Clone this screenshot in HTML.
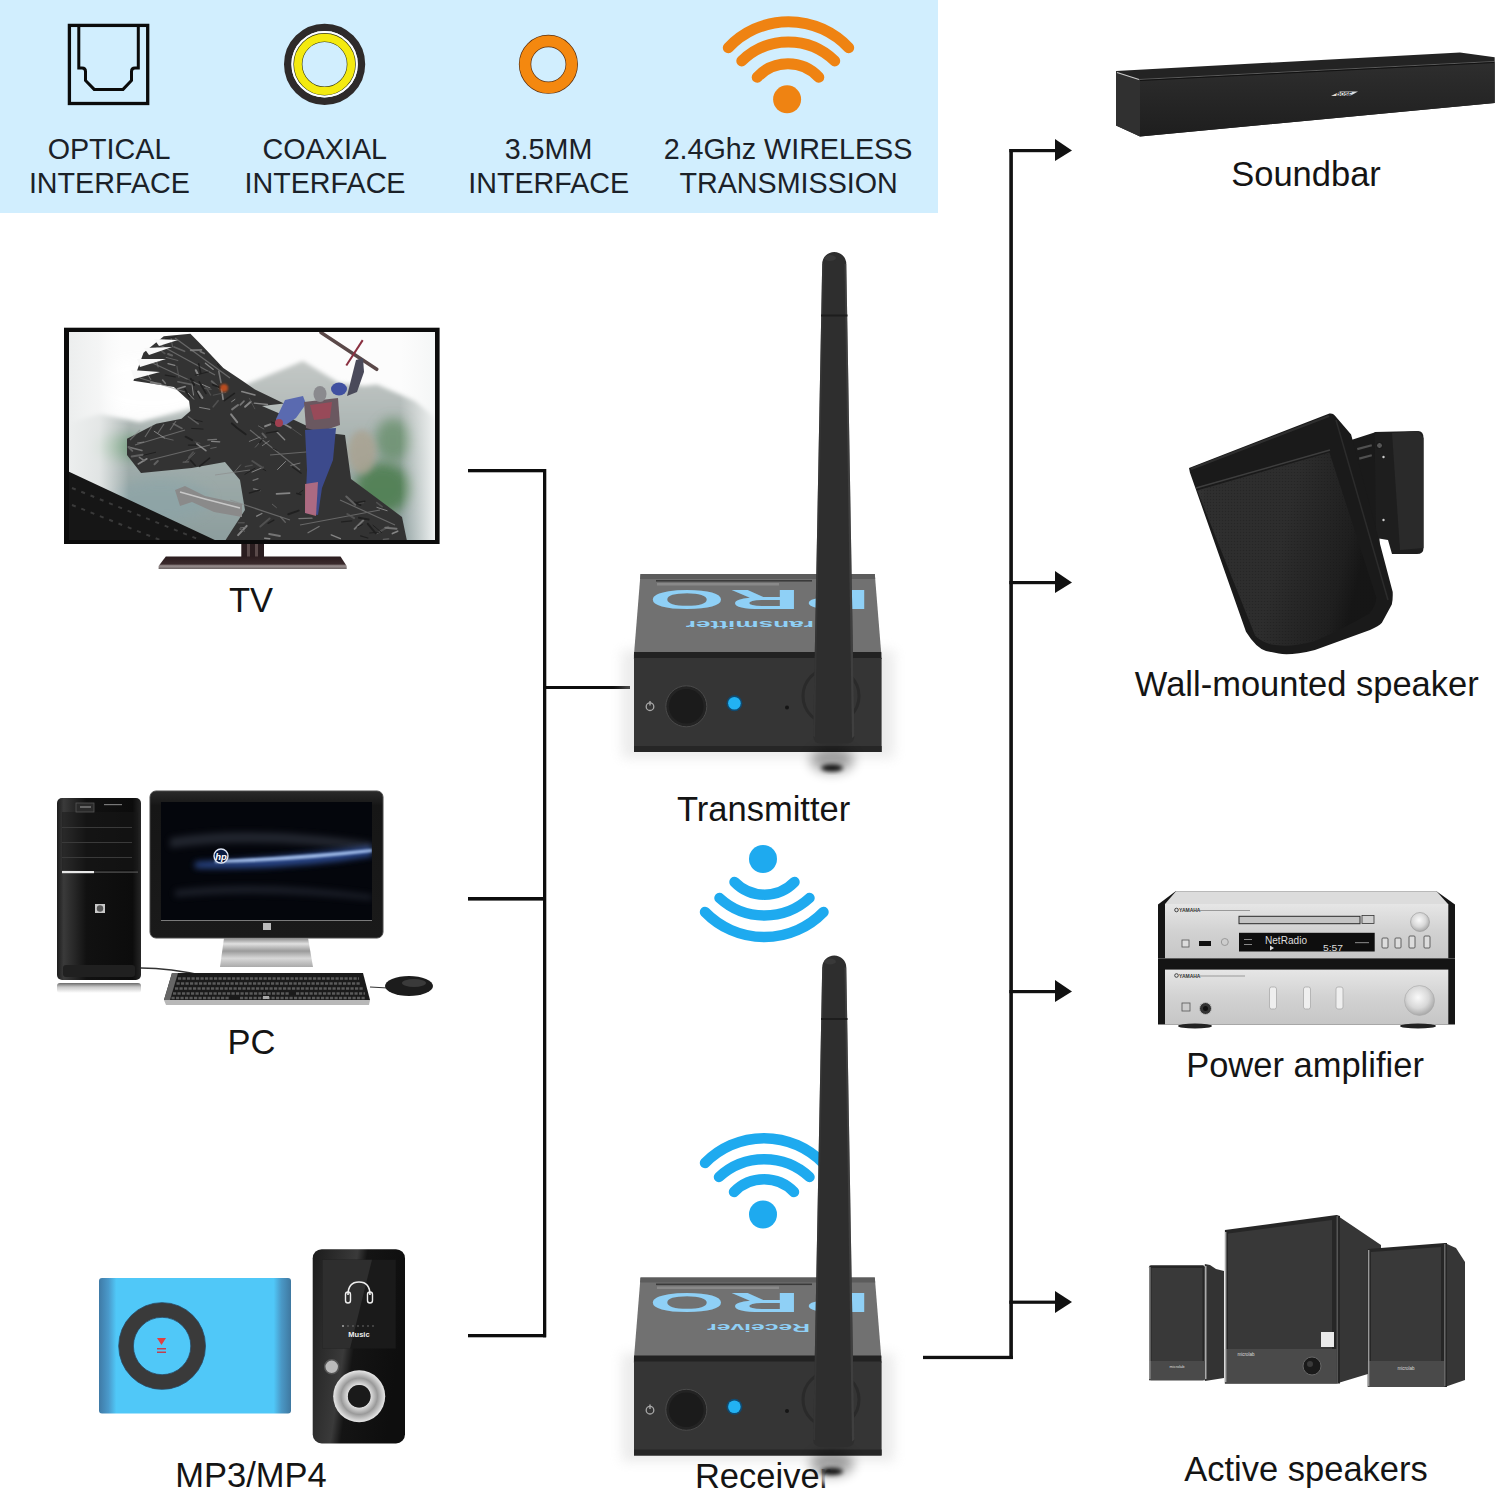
<!DOCTYPE html>
<html><head><meta charset="utf-8">
<style>
html,body{margin:0;padding:0;background:#fff;}
body{width:1500px;height:1491px;overflow:hidden;position:relative;}
svg{position:absolute;left:0;top:0;display:block;}
text{font-family:"Liberation Sans",sans-serif;}
</style></head><body>
<svg width="1500" height="1491" viewBox="0 0 1500 1491">
<defs>
<filter id="blur1" x="-50%" y="-50%" width="200%" height="200%"><feGaussianBlur stdDeviation="1"/></filter>
<filter id="blur2" x="-50%" y="-50%" width="200%" height="200%"><feGaussianBlur stdDeviation="2"/></filter>
<filter id="blur3" x="-50%" y="-50%" width="200%" height="200%"><feGaussianBlur stdDeviation="3"/></filter>
<filter id="blur6" x="-50%" y="-50%" width="200%" height="200%"><feGaussianBlur stdDeviation="6"/></filter>
<filter id="blur10" x="-50%" y="-50%" width="200%" height="200%"><feGaussianBlur stdDeviation="10"/></filter>
</defs>
<rect x="0" y="0" width="1500" height="1491" fill="#fff"/>
<!-- top panel -->
<rect x="0" y="0" width="938" height="213" fill="#d1eefe"/>
<!-- optical icon -->
<g fill="none" stroke="#0b0b0b" stroke-width="3.3">
<rect x="69.4" y="25.4" width="78.3" height="78.1"/>
<path d="M78.8,25.4 V68 H82 Q85.5,68 85.5,71.5 V80.5 L94.2,89.4 H123 L131.5,80.5 V71.5 Q131.5,68 135,68 H138.3 V25.4" stroke-width="3"/>
</g>
<!-- coaxial icon -->
<circle cx="324.6" cy="64.3" r="36.9" fill="none" stroke="#2e2a2a" stroke-width="7.4"/>
<circle cx="324.6" cy="64.3" r="32.2" fill="none" stroke="#fff" stroke-width="2"/>
<circle cx="324.6" cy="64.3" r="26.7" fill="none" stroke="#3a3a10" stroke-width="9"/>
<circle cx="324.6" cy="64.3" r="26.7" fill="none" stroke="#f4ea10" stroke-width="7.8"/>
<!-- 3.5mm icon -->
<circle cx="548.4" cy="64.3" r="23.35" fill="none" stroke="#5a3010" stroke-width="12.4"/>
<circle cx="548.4" cy="64.3" r="23.35" fill="none" stroke="#f4880f" stroke-width="11"/>
<!-- orange wifi -->
<g fill="none" stroke="#ef8312" stroke-width="11" stroke-linecap="round">
<path d="M728.3,47.8 A82.5,82.5 0 0 1 848.7,47.8"/>
<path d="M741.8,60.9 A66.6,66.6 0 0 1 834.7,60.9"/>
<path d="M757.2,77.2 A41.9,41.9 0 0 1 818.8,77.2"/>
</g>
<circle cx="787.1" cy="99.3" r="14" fill="#ef8312"/>
<!-- top labels -->
<g font-size="28.7" fill="#1b2128" text-anchor="middle">
<text x="109" y="158.5">OPTICAL</text>
<text x="109.4" y="193">INTERFACE</text>
<text x="324.8" y="158.5">COAXIAL</text>
<text x="325" y="193">INTERFACE</text>
<text x="548.5" y="158.5">3.5MM</text>
<text x="548.7" y="193">INTERFACE</text>
<text x="788" y="158.5">2.4Ghz WIRELESS</text>
<text x="788.6" y="193.3">TRANSMISSION</text>
</g>
<!-- left connector lines -->
<g fill="#0d0d0d">
<rect x="468" y="469" width="78" height="3.3"/>
<rect x="468" y="897" width="78" height="3.6"/>
<rect x="468" y="1334" width="78" height="3.3"/>
<rect x="543" y="469" width="3.3" height="868.3"/>
<rect x="546" y="686" width="84" height="3"/>
</g>
<!-- right connector lines -->
<g fill="#111">
<rect x="1009.3" y="149" width="3.6" height="1210"/>
<rect x="1009.3" y="149" width="47" height="3.2"/>
<rect x="1009.3" y="581" width="47" height="3.2"/>
<rect x="1009.3" y="990" width="47" height="3.2"/>
<rect x="1009.3" y="1300.6" width="47" height="3.2"/>
<rect x="923" y="1355.8" width="90" height="3.3"/>
<path d="M1055,139 L1072,150.5 L1055,161 Z"/>
<path d="M1055,571 L1072,582.5 L1055,593 Z"/>
<path d="M1055,980 L1072,991.5 L1055,1002 Z"/>
<path d="M1055,1291 L1072,1302 L1055,1313 Z"/>
</g>
<!-- blue wifi down -->
<g fill="none" stroke="#1eaaef" stroke-width="10.5" stroke-linecap="round">
<path d="M734.5,882 A41.9,41.9 0 0 0 794.5,882"/>
<path d="M719.5,898 A66.6,66.6 0 0 0 809.5,898"/>
<path d="M705,912 A82.5,82.5 0 0 0 823.5,912"/>
</g>
<circle cx="763" cy="859" r="14" fill="#1eaaef"/>
<!-- blue wifi up -->
<g fill="none" stroke="#1eaaef" stroke-width="10.5" stroke-linecap="round">
<path d="M734,1192 A41.9,41.9 0 0 1 794,1192"/>
<path d="M719,1177 A66.6,66.6 0 0 1 809.5,1177"/>
<path d="M705,1163 A82.5,82.5 0 0 1 823,1163"/>
</g>
<circle cx="763" cy="1214.5" r="14" fill="#1eaaef"/>
<!-- TRANSMITTER / RECEIVER -->
<g id="txbox">
<rect x="622" y="650" width="272" height="108" fill="#c8c8c8" opacity="0.35" filter="url(#blur6)"/>
<polygon points="640.5,574 874.8,574 881.3,654.3 634,654.3" fill="#717171"/>
<polygon points="640.5,574 874.8,574 875.2,579 640.1,579" fill="#5c5c5c"/>
<rect x="656" y="580" width="156" height="1.6" fill="#3a3a3a"/>
<rect x="657" y="583" width="122" height="2.5" fill="#9a9a9a" opacity="0.6"/>
<polygon points="634,652 881.3,652 881.6,659 633.9,659" fill="#222"/>
<rect x="634" y="658" width="247.6" height="94" fill="#353535"/>
<rect x="634" y="746" width="247.6" height="6" fill="#262626"/>
<circle cx="650" cy="706.7" r="3.8" fill="none" stroke="#a8a8a8" stroke-width="1.3"/>
<rect x="649.3" y="701" width="1.4" height="4.5" fill="#a8a8a8"/>
<circle cx="686.3" cy="706.3" r="20.5" fill="#232323" stroke="#4a4a4a" stroke-width="1"/>
<circle cx="686.3" cy="706.3" r="17.3" fill="#1b1b1b"/>
<circle cx="734.4" cy="703.3" r="8" fill="#104a70"/>
<circle cx="734.4" cy="703.3" r="6.3" fill="#22b2f3"/>
<circle cx="787" cy="707.5" r="2" fill="#151515"/>
<circle cx="831" cy="696" r="28" fill="none" stroke="#2a2a2a" stroke-width="3"/>
</g>
<g font-family="Liberation Serif" font-weight="bold" font-size="27.8" fill="#8fd0f6" text-anchor="middle">
<text transform="translate(686.75,589.5) rotate(180) scale(3.53,1)">O</text>
<text transform="translate(765.15,589.5) rotate(180) scale(3.53,1)">R</text>
<text transform="translate(838,589.5) rotate(180) scale(3.53,1)">P</text>
</g>
<text transform="translate(814,620.7) rotate(180) scale(2.3,1)" font-size="11.4" font-weight="bold" fill="#8fd0f6">ransmitter</text>
<g id="txant">
<ellipse cx="832" cy="760" rx="22" ry="13" fill="#000" opacity="0.35" filter="url(#blur6)"/>
<ellipse cx="832" cy="768" rx="11" ry="3.5" fill="#000" opacity="0.9" filter="url(#blur2)"/>
<path d="M822.2,264 A12,12 0 0 1 846.3,264 L854.4,736 Q854.4,743.6 846,743.6 L821.5,743.6 Q813.2,743.6 813.2,736 Z" fill="#2e2e2e"/>
<path d="M846.3,264 L854.4,736 L852,738 L844.5,264 Z" fill="#505050" opacity="0.5"/>
<path d="M822.2,264 L813.2,736 L815,737 L824,264 Z" fill="#3a3a3a" opacity="0.6"/>
<rect x="821" y="314.5" width="26.5" height="2" fill="#1d1d1d"/>
<ellipse cx="830" cy="258" rx="6" ry="3" fill="#444" opacity="0.5"/>
</g>
<use href="#txbox" transform="translate(0,703.5)"/>
<g font-family="Liberation Serif" font-weight="bold" font-size="27.8" fill="#8fd0f6" text-anchor="middle">
<text transform="translate(686.75,1293) rotate(180) scale(3.53,1)">O</text>
<text transform="translate(765.15,1293) rotate(180) scale(3.53,1)">R</text>
<text transform="translate(838,1293) rotate(180) scale(3.53,1)">P</text>
</g>
<text transform="translate(810,1323.5) rotate(180) scale(2.35,1)" font-size="10.5" font-weight="bold" fill="#8fd0f6">Receiver</text>
<!-- TV -->
<clipPath id="tvclip"><rect x="69" y="332" width="366" height="208"/></clipPath>
<linearGradient id="tvmistL" x1="0" x2="1" y1="0" y2="0"><stop offset="0" stop-color="#eceeee"/><stop offset="0.5" stop-color="#f2f3f3" stop-opacity="0.8"/><stop offset="1" stop-color="#fff" stop-opacity="0"/></linearGradient>
<linearGradient id="tvmistR" x1="0" x2="1" y1="0" y2="0"><stop offset="0" stop-color="#f6f7f7" stop-opacity="0"/><stop offset="1" stop-color="#f4f6f6" stop-opacity="0.95"/></linearGradient>
<linearGradient id="tvstandG" x1="0" x2="0" y1="0" y2="1"><stop offset="0" stop-color="#2b1c1e"/><stop offset="0.6" stop-color="#3a2a2c"/><stop offset="0.75" stop-color="#9a9090"/><stop offset="1" stop-color="#6a6262"/></linearGradient>
<linearGradient id="mtnG" x1="0" x2="0" y1="0" y2="1"><stop offset="0" stop-color="#c4c8c6"/><stop offset="0.5" stop-color="#a2aeac"/><stop offset="1" stop-color="#8a9c9c"/></linearGradient>
<rect x="64" y="327.7" width="375.6" height="216.3" fill="#0b0b0b"/>
<g clip-path="url(#tvclip)">
<rect x="69" y="332" width="366" height="208" fill="#fcfcfc"/>
<polygon points="60,425 100,414 140,422 200,405 250,383 303,361 339,383 364,386 377,384.5 415,401 445,425 445,550 60,550" fill="url(#mtnG)" filter="url(#blur2)"/>
<ellipse cx="120" cy="447" rx="28" ry="12" fill="#6a9a74" opacity="0.7" filter="url(#blur6)"/>
<ellipse cx="383" cy="488" rx="28" ry="26" fill="#4a7c4c" opacity="0.85" filter="url(#blur6)"/>
<ellipse cx="393" cy="440" rx="18" ry="22" fill="#5e8a62" opacity="0.7" filter="url(#blur6)"/>
<ellipse cx="362" cy="452" rx="14" ry="22" fill="#aaa290" opacity="0.8" filter="url(#blur3)"/>
<ellipse cx="160" cy="500" rx="50" ry="22" fill="#8aa4a8" opacity="0.6" filter="url(#blur6)"/>
<ellipse cx="150" cy="385" rx="60" ry="28" fill="#fff" opacity="0.95" filter="url(#blur6)"/>
<rect x="69" y="332" width="60" height="208" fill="url(#tvmistL)"/>
<rect x="400" y="332" width="35" height="208" fill="url(#tvmistR)"/>
<polygon points="60,467.5 217,541 60,541" fill="#161616"/>
<g stroke="#4a4a4a" stroke-width="2" stroke-dasharray="4 6" opacity="0.7"><path d="M72,488 L200,540"/><path d="M72,505 L160,540"/></g>
<polygon points="133.4,380.7 143.5,352.8 163.8,336.3 190.4,333.8 201.8,345.2 223.3,368 242.3,380.7 255,389.5 284,403.5 262,406 290,418 320,432 345,435 351,479 376.7,498 402,517 407,541 225,541 232,530 245,510 240,480 225,462 191.7,468 141,473 127,455 127,438.8 156.2,423.7 181.5,418.7 190.4,411 189.1,400.9 173.9,387" fill="#333"/>
<g stroke="#8a8a8a" stroke-width="1.2" opacity="0.6" fill="none">
<path d="M140,378 L185,392"/><path d="M146,360 L200,385"/><path d="M160,345 L215,375"/><path d="M175,338 L230,378"/>
<path d="M135,445 L185,430"/><path d="M150,460 L210,445"/><path d="M130,440 L140,430 M145,437 L152,426 M158,433 L164,424 M170,430 L176,421"/>
<path d="M250,430 L300,470"/><path d="M230,500 L290,520"/><path d="M270,455 L330,450"/><path d="M340,500 L395,525"/><path d="M300,525 L380,510"/><path d="M215,475 L250,470"/>
</g>
<!--dragon_tex-->
<g opacity="0.75">
<path d="M217.3,364.2 L220.3,367.8" stroke="#1a1a1a" stroke-width="1" stroke-linecap="round"/>
<path d="M238.1,535.1 L246.7,525.9" stroke="#a0a0a0" stroke-width="2" stroke-linecap="round"/>
<path d="M166.1,357.4 L177.9,360.5" stroke="#707070" stroke-width="1" stroke-linecap="round"/>
<path d="M290.8,465.3 L300.0,463.1" stroke="#8a8a8a" stroke-width="1" stroke-linecap="round"/>
<path d="M276.5,493.9 L289.7,493.1" stroke="#a0a0a0" stroke-width="1.6" stroke-linecap="round"/>
<path d="M195.8,370.2 L198.0,374.5" stroke="#a0a0a0" stroke-width="2" stroke-linecap="round"/>
<path d="M288.3,514.2 L298.7,510.6" stroke="#1a1a1a" stroke-width="2" stroke-linecap="round"/>
<path d="M290.3,427.4 L301.3,435.2" stroke="#5a5a5a" stroke-width="1" stroke-linecap="round"/>
<path d="M235.0,471.4 L240.6,464.9" stroke="#707070" stroke-width="1" stroke-linecap="round"/>
<path d="M238.4,522.8 L244.1,522.7" stroke="#5a5a5a" stroke-width="1.6" stroke-linecap="round"/>
<path d="M376.8,502.6 L382.1,506.7" stroke="#5a5a5a" stroke-width="1.6" stroke-linecap="round"/>
<path d="M190.8,350.2 L201.3,349.9" stroke="#8a8a8a" stroke-width="2" stroke-linecap="round"/>
<path d="M205.4,363.2 L213.3,369.4" stroke="#a0a0a0" stroke-width="1.3" stroke-linecap="round"/>
<path d="M347.3,514.0 L354.1,518.1" stroke="#5a5a5a" stroke-width="2" stroke-linecap="round"/>
<path d="M154.5,464.3 L157.8,461.0" stroke="#707070" stroke-width="2" stroke-linecap="round"/>
<path d="M168.1,354.0 L172.1,355.5" stroke="#707070" stroke-width="2" stroke-linecap="round"/>
<path d="M171.0,337.8 L172.5,346.9" stroke="#707070" stroke-width="1" stroke-linecap="round"/>
<path d="M188.5,445.1 L198.9,445.2" stroke="#1a1a1a" stroke-width="1.3" stroke-linecap="round"/>
<path d="M354.7,502.4 L360.4,505.0" stroke="#1a1a1a" stroke-width="2" stroke-linecap="round"/>
<path d="M187.8,380.0 L193.9,380.3" stroke="#1a1a1a" stroke-width="1" stroke-linecap="round"/>
<path d="M261.6,468.2 L265.8,470.7" stroke="#1a1a1a" stroke-width="1" stroke-linecap="round"/>
<path d="M239.4,529.0 L244.6,531.2" stroke="#707070" stroke-width="1" stroke-linecap="round"/>
<path d="M360.6,535.9 L367.8,538.0" stroke="#1a1a1a" stroke-width="1.3" stroke-linecap="round"/>
<path d="M185.6,436.7 L192.1,440.1" stroke="#1a1a1a" stroke-width="2" stroke-linecap="round"/>
<path d="M272.3,504.2 L276.4,507.6" stroke="#707070" stroke-width="1" stroke-linecap="round"/>
<path d="M298.4,493.6 L302.8,490.4" stroke="#1a1a1a" stroke-width="1" stroke-linecap="round"/>
<path d="M272.7,448.0 L277.1,450.5" stroke="#1a1a1a" stroke-width="1" stroke-linecap="round"/>
<path d="M195.8,390.3 L200.0,398.4" stroke="#1a1a1a" stroke-width="1" stroke-linecap="round"/>
<path d="M341.6,521.9 L351.7,520.9" stroke="#1a1a1a" stroke-width="1.3" stroke-linecap="round"/>
<path d="M277.0,432.0 L284.7,439.8" stroke="#a0a0a0" stroke-width="1.3" stroke-linecap="round"/>
<path d="M376.6,533.3 L388.4,526.7" stroke="#5a5a5a" stroke-width="2" stroke-linecap="round"/>
<path d="M245.1,406.8 L250.8,401.7" stroke="#a0a0a0" stroke-width="2" stroke-linecap="round"/>
<path d="M198.7,363.9 L200.8,373.4" stroke="#1a1a1a" stroke-width="1.6" stroke-linecap="round"/>
<path d="M254.3,403.2 L267.5,404.5" stroke="#a0a0a0" stroke-width="1.3" stroke-linecap="round"/>
<path d="M392.4,533.6 L397.7,531.2" stroke="#a0a0a0" stroke-width="1.6" stroke-linecap="round"/>
<path d="M252.0,472.1 L263.0,467.3" stroke="#a0a0a0" stroke-width="1" stroke-linecap="round"/>
<path d="M260.3,526.5 L269.6,518.5" stroke="#5a5a5a" stroke-width="2" stroke-linecap="round"/>
<path d="M280.6,517.0 L285.3,522.3" stroke="#707070" stroke-width="1.3" stroke-linecap="round"/>
<path d="M240.3,404.9 L244.0,401.1" stroke="#8a8a8a" stroke-width="1.6" stroke-linecap="round"/>
<path d="M269.2,534.0 L279.9,535.9" stroke="#8a8a8a" stroke-width="2" stroke-linecap="round"/>
<path d="M177.8,388.7 L185.1,386.5" stroke="#a0a0a0" stroke-width="1.6" stroke-linecap="round"/>
<path d="M213.2,406.8 L218.1,400.7" stroke="#5a5a5a" stroke-width="1.6" stroke-linecap="round"/>
<path d="M200.3,351.6 L204.3,353.4" stroke="#8a8a8a" stroke-width="1.6" stroke-linecap="round"/>
<path d="M211.7,381.2 L218.5,387.6" stroke="#707070" stroke-width="2" stroke-linecap="round"/>
<path d="M271.2,421.9 L279.7,425.1" stroke="#1a1a1a" stroke-width="1" stroke-linecap="round"/>
<path d="M277.5,469.5 L285.6,461.5" stroke="#a0a0a0" stroke-width="1" stroke-linecap="round"/>
<path d="M138.3,464.0 L146.9,458.8" stroke="#a0a0a0" stroke-width="1.6" stroke-linecap="round"/>
<path d="M262.5,433.6 L265.8,437.3" stroke="#707070" stroke-width="2" stroke-linecap="round"/>
<path d="M207.9,439.9 L216.5,439.4" stroke="#8a8a8a" stroke-width="1.3" stroke-linecap="round"/>
<path d="M199.6,407.4 L209.8,409.3" stroke="#a0a0a0" stroke-width="1" stroke-linecap="round"/>
<path d="M265.1,426.3 L270.2,424.4" stroke="#a0a0a0" stroke-width="2" stroke-linecap="round"/>
<path d="M231.1,414.3 L237.2,422.1" stroke="#a0a0a0" stroke-width="2" stroke-linecap="round"/>
<path d="M249.3,398.3 L254.8,408.8" stroke="#5a5a5a" stroke-width="1" stroke-linecap="round"/>
<path d="M385.3,527.7 L396.5,528.7" stroke="#8a8a8a" stroke-width="2" stroke-linecap="round"/>
<path d="M253.5,488.8 L260.1,490.6" stroke="#8a8a8a" stroke-width="1.3" stroke-linecap="round"/>
<path d="M205.3,385.9 L210.7,395.0" stroke="#5a5a5a" stroke-width="1.3" stroke-linecap="round"/>
<path d="M210.7,448.4 L216.3,447.3" stroke="#707070" stroke-width="1" stroke-linecap="round"/>
<path d="M383.3,539.3 L388.7,538.8" stroke="#707070" stroke-width="1.3" stroke-linecap="round"/>
<path d="M151.0,382.5 L160.5,384.1" stroke="#8a8a8a" stroke-width="2" stroke-linecap="round"/>
<path d="M184.9,388.9 L189.3,396.7" stroke="#1a1a1a" stroke-width="1.6" stroke-linecap="round"/>
<path d="M160.9,437.2 L173.2,440.1" stroke="#707070" stroke-width="1" stroke-linecap="round"/>
<path d="M202.2,384.4 L210.0,387.9" stroke="#a0a0a0" stroke-width="1" stroke-linecap="round"/>
<path d="M258.4,425.9 L263.9,429.0" stroke="#707070" stroke-width="1" stroke-linecap="round"/>
<path d="M255.3,447.2 L263.3,438.4" stroke="#707070" stroke-width="1" stroke-linecap="round"/>
<path d="M157.0,347.6 L164.8,353.5" stroke="#5a5a5a" stroke-width="1.6" stroke-linecap="round"/>
<path d="M188.7,457.4 L193.2,452.0" stroke="#5a5a5a" stroke-width="1.6" stroke-linecap="round"/>
<path d="M191.9,384.1 L193.5,395.1" stroke="#a0a0a0" stroke-width="1" stroke-linecap="round"/>
<path d="M244.9,474.3 L255.1,468.1" stroke="#1a1a1a" stroke-width="1" stroke-linecap="round"/>
<path d="M190.8,378.8 L194.1,384.9" stroke="#1a1a1a" stroke-width="2" stroke-linecap="round"/>
<path d="M298.9,518.6 L312.0,518.2" stroke="#8a8a8a" stroke-width="1.3" stroke-linecap="round"/>
<path d="M131.7,456.4 L142.7,454.7" stroke="#707070" stroke-width="2" stroke-linecap="round"/>
<path d="M253.1,480.4 L258.0,478.7" stroke="#8a8a8a" stroke-width="1.3" stroke-linecap="round"/>
<path d="M218.8,371.4 L221.0,382.7" stroke="#8a8a8a" stroke-width="1.6" stroke-linecap="round"/>
<path d="M231.6,401.7 L234.9,399.4" stroke="#a0a0a0" stroke-width="1" stroke-linecap="round"/>
<path d="M359.1,503.2 L363.6,502.6" stroke="#5a5a5a" stroke-width="1.3" stroke-linecap="round"/>
<path d="M221.6,389.4 L223.1,399.4" stroke="#a0a0a0" stroke-width="1.6" stroke-linecap="round"/>
<path d="M354.6,528.9 L363.3,520.3" stroke="#8a8a8a" stroke-width="2" stroke-linecap="round"/>
<path d="M346.3,496.5 L355.2,504.7" stroke="#707070" stroke-width="2" stroke-linecap="round"/>
<path d="M147.5,373.8 L150.7,379.5" stroke="#8a8a8a" stroke-width="1" stroke-linecap="round"/>
<path d="M262.3,445.7 L269.1,441.0" stroke="#8a8a8a" stroke-width="1" stroke-linecap="round"/>
<path d="M191.7,419.3 L202.2,421.6" stroke="#1a1a1a" stroke-width="1" stroke-linecap="round"/>
<path d="M204.6,388.4 L211.1,389.4" stroke="#5a5a5a" stroke-width="1.3" stroke-linecap="round"/>
<path d="M177.9,381.7 L190.7,384.4" stroke="#707070" stroke-width="1.6" stroke-linecap="round"/>
<path d="M195.1,441.9 L199.9,443.3" stroke="#5a5a5a" stroke-width="1" stroke-linecap="round"/>
<path d="M154.2,431.3 L164.6,438.0" stroke="#a0a0a0" stroke-width="1" stroke-linecap="round"/>
<path d="M139.4,457.3 L144.3,460.6" stroke="#8a8a8a" stroke-width="1.6" stroke-linecap="round"/>
<path d="M296.9,493.4 L300.8,494.6" stroke="#1a1a1a" stroke-width="1.6" stroke-linecap="round"/>
<path d="M165.3,375.2 L175.2,376.8" stroke="#1a1a1a" stroke-width="1.3" stroke-linecap="round"/>
<path d="M357.2,502.5 L364.8,501.2" stroke="#1a1a1a" stroke-width="1.6" stroke-linecap="round"/>
<path d="M266.3,433.1 L278.0,431.1" stroke="#1a1a1a" stroke-width="1.3" stroke-linecap="round"/>
<path d="M241.8,391.6 L254.9,395.0" stroke="#a0a0a0" stroke-width="1.6" stroke-linecap="round"/>
<path d="M240.4,528.0 L245.9,527.3" stroke="#8a8a8a" stroke-width="1" stroke-linecap="round"/>
<path d="M129.2,447.2 L141.9,450.5" stroke="#8a8a8a" stroke-width="1.6" stroke-linecap="round"/>
<path d="M174.0,346.9 L184.6,351.3" stroke="#707070" stroke-width="1.6" stroke-linecap="round"/>
<path d="M188.3,416.7 L198.3,423.9" stroke="#707070" stroke-width="1.3" stroke-linecap="round"/>
<path d="M376.9,507.4 L387.1,510.7" stroke="#a0a0a0" stroke-width="1" stroke-linecap="round"/>
<path d="M236.1,427.3 L245.6,434.3" stroke="#1a1a1a" stroke-width="2" stroke-linecap="round"/>
<path d="M212.8,384.6 L219.9,387.6" stroke="#1a1a1a" stroke-width="2" stroke-linecap="round"/>
<path d="M252.3,461.0 L262.7,467.8" stroke="#5a5a5a" stroke-width="2" stroke-linecap="round"/>
<path d="M155.5,359.6 L159.9,361.8" stroke="#5a5a5a" stroke-width="1" stroke-linecap="round"/>
<path d="M156.2,360.2 L158.1,366.9" stroke="#707070" stroke-width="1.3" stroke-linecap="round"/>
<path d="M268.1,523.4 L273.9,520.1" stroke="#1a1a1a" stroke-width="1.3" stroke-linecap="round"/>
<path d="M176.9,366.4 L178.9,377.0" stroke="#5a5a5a" stroke-width="1.3" stroke-linecap="round"/>
<path d="M369.6,533.0 L378.8,532.2" stroke="#1a1a1a" stroke-width="1" stroke-linecap="round"/>
<path d="M196.8,443.9 L205.9,450.7" stroke="#a0a0a0" stroke-width="1.6" stroke-linecap="round"/>
<path d="M232.1,409.4 L238.0,405.0" stroke="#8a8a8a" stroke-width="2" stroke-linecap="round"/>
<path d="M190.6,460.4 L195.3,465.5" stroke="#1a1a1a" stroke-width="1.6" stroke-linecap="round"/>
<path d="M373.0,525.2 L381.6,532.6" stroke="#1a1a1a" stroke-width="1" stroke-linecap="round"/>
<path d="M188.2,393.2 L193.7,399.2" stroke="#a0a0a0" stroke-width="1" stroke-linecap="round"/>
<path d="M162.6,380.0 L165.3,383.3" stroke="#8a8a8a" stroke-width="1.6" stroke-linecap="round"/>
<path d="M211.6,441.3 L219.7,441.8" stroke="#a0a0a0" stroke-width="1.3" stroke-linecap="round"/>
<path d="M183.2,462.2 L188.5,461.9" stroke="#707070" stroke-width="1.3" stroke-linecap="round"/>
<path d="M359.0,517.8 L368.6,519.4" stroke="#1a1a1a" stroke-width="2" stroke-linecap="round"/>
<path d="M137.5,443.0 L143.8,442.0" stroke="#8a8a8a" stroke-width="1" stroke-linecap="round"/>
<path d="M128.5,447.0 L132.3,450.9" stroke="#707070" stroke-width="2" stroke-linecap="round"/>
<path d="M213.2,395.2 L225.8,392.4" stroke="#5a5a5a" stroke-width="1" stroke-linecap="round"/>
<path d="M231.9,423.4 L235.5,426.6" stroke="#1a1a1a" stroke-width="2" stroke-linecap="round"/>
<path d="M199.5,466.3 L209.6,458.2" stroke="#1a1a1a" stroke-width="1.6" stroke-linecap="round"/>
<path d="M282.8,423.3 L290.8,427.8" stroke="#a0a0a0" stroke-width="1.6" stroke-linecap="round"/>
<path d="M308.0,532.8 L319.1,526.5" stroke="#8a8a8a" stroke-width="1.3" stroke-linecap="round"/>
<path d="M199.2,381.9 L206.0,393.5" stroke="#1a1a1a" stroke-width="1.6" stroke-linecap="round"/>
<path d="M367.8,523.8 L375.8,533.3" stroke="#1a1a1a" stroke-width="2" stroke-linecap="round"/>
<path d="M259.6,442.8 L262.2,439.5" stroke="#1a1a1a" stroke-width="1.3" stroke-linecap="round"/>
<path d="M185.4,461.9 L194.9,452.9" stroke="#707070" stroke-width="1" stroke-linecap="round"/>
<path d="M165.4,338.9 L176.1,336.5" stroke="#1a1a1a" stroke-width="1" stroke-linecap="round"/>
<path d="M143.7,455.2 L155.6,452.3" stroke="#1a1a1a" stroke-width="1" stroke-linecap="round"/>
<path d="M195.3,375.1 L208.4,371.9" stroke="#1a1a1a" stroke-width="1" stroke-linecap="round"/>
<path d="M198.2,391.5 L202.4,397.9" stroke="#a0a0a0" stroke-width="2" stroke-linecap="round"/>
<path d="M249.4,493.0 L260.0,490.0" stroke="#1a1a1a" stroke-width="1.3" stroke-linecap="round"/>
<path d="M249.3,441.4 L260.0,437.1" stroke="#8a8a8a" stroke-width="1" stroke-linecap="round"/>
<path d="M357.3,527.2 L362.4,524.6" stroke="#1a1a1a" stroke-width="1" stroke-linecap="round"/>
<path d="M264.7,538.2 L269.7,538.7" stroke="#a0a0a0" stroke-width="1.6" stroke-linecap="round"/>
<path d="M245.3,466.7 L252.2,465.1" stroke="#5a5a5a" stroke-width="1.3" stroke-linecap="round"/>
<path d="M191.6,428.4 L203.1,429.1" stroke="#1a1a1a" stroke-width="1" stroke-linecap="round"/>
<path d="M224.3,400.6 L234.4,393.4" stroke="#1a1a1a" stroke-width="1.6" stroke-linecap="round"/>
<path d="M173.3,423.8 L182.0,428.5" stroke="#707070" stroke-width="1.6" stroke-linecap="round"/>
<path d="M256.7,516.2 L261.9,513.5" stroke="#a0a0a0" stroke-width="1.3" stroke-linecap="round"/>
<path d="M331.2,534.8 L340.4,538.7" stroke="#a0a0a0" stroke-width="1.3" stroke-linecap="round"/>
<path d="M168.0,363.7 L174.8,365.4" stroke="#a0a0a0" stroke-width="1.3" stroke-linecap="round"/>
<path d="M292.4,467.0 L301.1,473.2" stroke="#1a1a1a" stroke-width="1.3" stroke-linecap="round"/>
</g>
<g fill="#f8f8f8">
<polygon points="131,370 134,379 160,372"/><polygon points="137,359 140,367 166,359"/><polygon points="144,348 149,355 172,347"/><polygon points="154,339 159,346 178,340"/>

</g>
<polygon points="175,490 185,486 205,496 242,504 242,517 214,512 192,502 180,506" fill="#8a8a8a"/>
<path d="M180,492 L205,499 L240,508" stroke="#c8c8c8" stroke-width="1.5" fill="none"/>
<circle cx="224" cy="388" r="4" fill="#c8501e" opacity="0.9" filter="url(#blur1)"/>
<path d="M321,332.5 L376.7,369.3" stroke="#5a4848" stroke-width="3.5" stroke-linecap="round"/>
<path d="M346.3,365.5 L362.7,340.1" stroke="#8a3040" stroke-width="2"/>
<polygon points="347,396 353,372 356,360 363,358 364,372 357,392" fill="#4a4a5a"/>
<polygon points="285,400 303,396 306,404 296,418 287,424 277,426 276,419" fill="#5a6ab0"/>
<circle cx="279" cy="423" r="4" fill="#a04050"/>
<polygon points="304,402 338,398 340,425 320,432 306,428" fill="#6a5860"/>
<polygon points="310,405 332,402 330,418 314,420" fill="#a04858" opacity="0.85"/>
<ellipse cx="320" cy="394" rx="6.5" ry="8" fill="#8a8a8e"/>
<ellipse cx="339" cy="389" rx="8" ry="6.5" fill="#4050a0"/>
<polygon points="305,430 336,428 333,460 322,488 318,515 305,513 307,470" fill="#3c4a8c"/>
<polygon points="305,484 318,482 316,516 305,513" fill="#c07080" opacity="0.85"/>
</g>
<rect x="241.3" y="544" width="22.7" height="17.6" fill="#2a1d1f"/>
<rect x="247" y="544" width="3" height="17.6" fill="#5a4a4a"/>
<rect x="255" y="544" width="3" height="17.6" fill="#5a4a4a"/>
<polygon points="165.8,556.5 340.5,556.5 346.7,566 346.7,569 158.6,569 158.6,566" fill="url(#tvstandG)"/>
<!-- PC -->
<linearGradient id="towerG" x1="0" x2="1" y1="0" y2="0"><stop offset="0" stop-color="#1c1c1c"/><stop offset="0.08" stop-color="#3a3a3a"/><stop offset="0.35" stop-color="#111"/><stop offset="0.9" stop-color="#0c0c0c"/><stop offset="1" stop-color="#262626"/></linearGradient>
<linearGradient id="reflG" x1="0" x2="0" y1="0" y2="1"><stop offset="0" stop-color="#444"/><stop offset="0.4" stop-color="#bbb"/><stop offset="1" stop-color="#fff"/></linearGradient>
<linearGradient id="monG" x1="0" x2="0" y1="0" y2="1"><stop offset="0" stop-color="#2a2a2a"/><stop offset="0.1" stop-color="#161616"/><stop offset="1" stop-color="#1a1a1a"/></linearGradient>
<linearGradient id="standG" x1="0" x2="0" y1="0" y2="1"><stop offset="0" stop-color="#888"/><stop offset="0.2" stop-color="#e0e0e0"/><stop offset="0.45" stop-color="#9a9a9a"/><stop offset="0.7" stop-color="#d8d8d8"/><stop offset="1" stop-color="#aaa"/></linearGradient>
<radialGradient id="hpstreak" cx="0.5" cy="0.5" r="0.5"><stop offset="0" stop-color="#6a9ae0" stop-opacity="0.95"/><stop offset="0.4" stop-color="#2a4a90" stop-opacity="0.7"/><stop offset="1" stop-color="#0a1020" stop-opacity="0"/></radialGradient>
<rect x="57" y="983" width="84" height="10" rx="3" fill="url(#reflG)" opacity="0.8"/>
<rect x="57" y="798" width="84" height="182" rx="5" fill="url(#towerG)"/>
<rect x="62" y="812" width="76" height="58" fill="#171717" opacity="0.5"/>
<g fill="#3a3a3a"><rect x="62" y="827" width="70" height="1"/><rect x="62" y="842" width="70" height="1"/><rect x="62" y="857" width="70" height="1"/></g>
<rect x="76" y="803" width="18" height="9" fill="#2a2a2a" stroke="#555" stroke-width="0.8"/>
<rect x="80" y="806" width="11" height="2" fill="#666"/>
<rect x="104" y="804" width="18" height="1.2" fill="#777"/>
<rect x="62" y="871" width="32" height="2.2" fill="#e8e8e8"/>
<rect x="94" y="871.5" width="44" height="1.2" fill="#555"/>
<rect x="95" y="904" width="10" height="9" fill="#c8c8c8"/>
<circle cx="100" cy="908.5" r="3.2" fill="#555"/>
<rect x="63" y="965" width="72" height="12" rx="3" fill="#202020"/>
<rect x="150" y="791" width="233" height="147" rx="6" fill="url(#monG)" stroke="#4a4a4a" stroke-width="1"/>
<rect x="161" y="802" width="211" height="118" fill="#04060c"/>
<clipPath id="pcclip"><rect x="161" y="802" width="211" height="118"/></clipPath>
<g clip-path="url(#pcclip)">
<path d="M170,838 Q250,825 372,842 L372,852 Q260,836 170,848 Z" fill="#5a6070" opacity="0.35" filter="url(#blur3)"/>
<path d="M195,862 Q280,858 372,846 L372,856 Q290,870 195,868 Z" fill="#3a64c0" opacity="0.7" filter="url(#blur3)"/>
<path d="M215,860 Q290,857 372,849 L372,852 Q290,862 215,863 Z" fill="#a8c4f0" opacity="0.9" filter="url(#blur1)"/>
<path d="M175,890 Q260,880 372,895 L372,900 Q260,888 175,897 Z" fill="#4a5060" opacity="0.35" filter="url(#blur3)"/>
</g>
<circle cx="221" cy="856" r="7" fill="#0a1a40" stroke="#dfe6f5" stroke-width="1.4"/>
<text x="221" y="859.5" font-size="9.5" font-style="italic" font-weight="bold" fill="#fff" text-anchor="middle">hp</text>
<rect x="161" y="920" width="211" height="1" fill="#7a7a7a"/>
<rect x="263" y="923" width="8" height="7" fill="#bbb"/>
<polygon points="224,938 308,938 313,967 220,967" fill="url(#standG)"/>
<path d="M141,968 Q170,968 205,976" stroke="#333" stroke-width="1.3" fill="none"/>
<path d="M370,987 L388,988" stroke="#333" stroke-width="1.2" fill="none"/>
<polygon points="172,973 363,973 370,1000 164,1000" fill="#1a1a1a"/>
<polygon points="164,1000 370,1000 369,1005 166,1005" fill="#b8b8b8"/>
<g stroke="#5a5a5a" stroke-width="2.6" stroke-dasharray="3.2 1.3" fill="none">
<path d="M178,978.5 H359"/><path d="M176.5,983.5 H361"/><path d="M175,988.5 H363"/><path d="M173,993.5 H290 M296,993.5 H365"/><path d="M171.5,998 H230 M240,998 H366"/>
</g>
<rect x="263" y="996" width="6" height="3" fill="#aaa"/>
<polygon points="172,973 178,973 170,1000 164,1000" fill="#666"/>
<ellipse cx="409" cy="986" rx="24" ry="10" fill="#1c1c1c"/>
<ellipse cx="414" cy="983" rx="12" ry="4" fill="#3a3a3a"/>
<!-- MP3 -->
<linearGradient id="mp3G" x1="0" x2="1" y1="0" y2="0"><stop offset="0" stop-color="#3f7aa6"/><stop offset="0.05" stop-color="#4a9acb"/><stop offset="0.09" stop-color="#50c8f8"/><stop offset="0.91" stop-color="#50c8f8"/><stop offset="0.95" stop-color="#4a98c6"/><stop offset="1" stop-color="#3f78a0"/></linearGradient>
<linearGradient id="blkG" x1="0" x2="1" y1="0" y2="0.3"><stop offset="0" stop-color="#1c1c1c"/><stop offset="0.45" stop-color="#3a3a3a"/><stop offset="0.55" stop-color="#141414"/><stop offset="1" stop-color="#0e0e0e"/></linearGradient>
<radialGradient id="wheelG" cx="0.5" cy="0.5" r="0.5"><stop offset="0.4" stop-color="#444"/><stop offset="0.45" stop-color="#ddd"/><stop offset="0.7" stop-color="#9a9a9a"/><stop offset="1" stop-color="#e8e8e8"/></radialGradient>
<rect x="99" y="1278" width="192" height="135.5" rx="3" fill="url(#mp3G)"/>
<circle cx="162.1" cy="1346" r="36" fill="none" stroke="#3a3a3a" stroke-width="14.7"/>
<circle cx="162.1" cy="1346" r="43.4" fill="none" stroke="#2a4a66" stroke-width="0.8"/>
<circle cx="162.1" cy="1346" r="28.7" fill="none" stroke="#2a4a66" stroke-width="0.8"/>
<polygon points="157,1338 166,1338 161.5,1345" fill="#e04040"/>
<rect x="157" y="1348" width="9" height="1.5" fill="#c04050"/>
<rect x="157" y="1351.5" width="9" height="1.5" fill="#c04050"/>
<rect x="312.7" y="1249.2" width="92.3" height="194.3" rx="9" fill="url(#blkG)"/>
<rect x="322.5" y="1259.7" width="73.3" height="88.8" fill="#1a1a1a"/>
<polygon points="322.5,1259.7 372,1259.7 350,1348.5 322.5,1348.5" fill="#2e2e2e"/>
<path d="M348,1295 Q348,1282 359,1282 Q370,1282 370,1295" fill="none" stroke="#eee" stroke-width="1.6"/>
<rect x="345.5" y="1292" width="5" height="11" rx="2.5" fill="none" stroke="#eee" stroke-width="1.4"/>
<rect x="367.5" y="1292" width="5" height="11" rx="2.5" fill="none" stroke="#eee" stroke-width="1.4"/>
<g fill="#888"><circle cx="343" cy="1326" r="0.8" fill="#fff"/><circle cx="348" cy="1326" r="0.7"/><circle cx="353" cy="1326" r="0.7"/><circle cx="358" cy="1326" r="0.7"/><circle cx="363" cy="1326" r="0.7"/><circle cx="368" cy="1326" r="0.7"/><circle cx="373" cy="1326" r="0.7"/></g>
<text x="359" y="1337" font-size="7.5" font-weight="bold" fill="#eee" text-anchor="middle">Music</text>
<circle cx="331.7" cy="1366.8" r="7" fill="#bbb" stroke="#555" stroke-width="1.5"/>
<circle cx="359.2" cy="1396.3" r="26" fill="url(#wheelG)"/>
<circle cx="359.2" cy="1396.3" r="11.3" fill="#1a1a1a"/>
<!-- SOUNDBAR -->
<linearGradient id="sbG" x1="0" x2="0" y1="0" y2="1"><stop offset="0" stop-color="#2e2e2e"/><stop offset="0.5" stop-color="#262626"/><stop offset="1" stop-color="#1e1e1e"/></linearGradient>
<polygon points="1116,71 1460,52.5 1494.7,57.3 1494.7,103 1140,136.5 1116,125.5" fill="#232323"/>
<polygon points="1140,80 1494.7,62 1494.7,103 1140,136.5" fill="url(#sbG)"/>
<polygon points="1116,71 1140,80 1140,136.5 1116,125.5" fill="#303030"/>
<path d="M1117,72.5 L1139,79.5" stroke="#c8c8c8" stroke-width="1.3" fill="none"/>
<path d="M1139,79.5 L1494,61.5" stroke="#5a5a5a" stroke-width="1" fill="none"/>
<path d="M1140,80.5 L1494,62.5" stroke="#111" stroke-width="1" fill="none"/>
<polygon points="1331,96 1340,91.5 1358,91.5 1350,96" fill="#ddd"/>
<text x="1344" y="95.8" font-size="5.5" font-weight="bold" font-style="italic" fill="#222" text-anchor="middle">BOSE</text>
<!-- WALL SPEAKER -->
<linearGradient id="wsG" x1="0" x2="1" y1="0" y2="0.25"><stop offset="0" stop-color="#3a3a3a"/><stop offset="0.1" stop-color="#2f2f2f"/><stop offset="0.55" stop-color="#2d2d2d"/><stop offset="0.9" stop-color="#1f1f1f"/><stop offset="1" stop-color="#161616"/></linearGradient>
<pattern id="grille" width="3" height="3" patternUnits="userSpaceOnUse"><circle cx="1.5" cy="1.5" r="0.7" fill="#111" opacity="0.5"/></pattern>
<!-- bracket -->
<polygon points="1345,442 1376,432 1380,556 1392,592 1370,560" fill="#1a1a1a"/>
<g fill="#505050"><rect x="1357" y="446" width="15" height="2.2" transform="rotate(-15 1365 447)"/><rect x="1359" y="456" width="13" height="2.2" transform="rotate(-15 1365 457)"/></g>
<path d="M1374.6,432 L1418,431 Q1423.5,431 1423.5,438 L1423.5,548 Q1423.5,554 1417,554 L1392,554 L1388,540 L1376,538 Z" fill="#1e1e1e"/>
<polygon points="1392,433 1418,431 1423.5,438 1423.5,548 1400,550" fill="#2a2a2a"/>
<circle cx="1379.5" cy="445.5" r="3" fill="#555" stroke="#111" stroke-width="1"/>
<circle cx="1383.5" cy="457" r="1.2" fill="#ccc"/>
<circle cx="1383.5" cy="520" r="1.2" fill="#ccc"/>
<path d="M1189,467.9 L1329.4,413.6 Q1333,413 1334.8,415.4 L1351.1,434.4 L1392.7,592 Q1393,600 1391.8,604.6 L1381.9,622.7 Q1379,626 1370,630 L1314.9,649.9 Q1290,656 1278.7,653.5 L1266,651 Q1256,648 1246,631.8 L1189.9,472.4 Z" fill="#1a1a1a"/>
<path d="M1197.2,490.5 L1329.4,452.5 L1376.4,597.4 Q1376,606 1369.2,613.7 Q1345,628 1314.9,640.9 Q1290,648 1271.4,644.5 Q1260,641 1255.1,635.4 Z" fill="url(#wsG)"/>
<path d="M1197.2,490.5 L1329.4,452.5 L1376.4,597.4 Q1376,606 1369.2,613.7 Q1345,628 1314.9,640.9 Q1290,648 1271.4,644.5 Q1260,641 1255.1,635.4 Z" fill="url(#grille)" opacity="0.6"/>
<path d="M1196,488 L1330,450" stroke="#3e3e3e" stroke-width="1.5"/>
<path d="M1191,469 L1329,416" stroke="#2e2e2e" stroke-width="2"/>
<path d="M1336,420 L1388,600" stroke="#2c2c2c" stroke-width="1.5"/>

<!-- POWER AMP -->
<linearGradient id="silverG" x1="0" x2="0" y1="0" y2="1"><stop offset="0" stop-color="#e6e6e6"/><stop offset="0.5" stop-color="#d2d2d2"/><stop offset="1" stop-color="#c6c6c6"/></linearGradient>
<radialGradient id="knobG" cx="0.45" cy="0.4" r="0.6"><stop offset="0" stop-color="#fafafa"/><stop offset="0.6" stop-color="#d8d8d8"/><stop offset="1" stop-color="#a8a8a8"/></radialGradient>
<polygon points="1158,904.5 1175.6,891.2 1436.5,891.2 1455,904.5 1455,958.5 1158,958.5" fill="#151515"/>
<polygon points="1176,891.2 1436.5,891.2 1448,904 1165,904" fill="#dcdcdc"/>
<rect x="1165" y="904" width="283.3" height="54.4" fill="url(#silverG)"/>
<rect x="1239" y="932.8" width="135.7" height="18.7" fill="#0e0e0e"/>
<text x="1265" y="944" font-family="Liberation Mono" font-size="10" fill="#ddd" textLength="42" lengthAdjust="spacingAndGlyphs">NetRadio</text>
<polygon points="1270,945.5 1274,948 1270,950.5" fill="#ddd"/>
<g fill="#888"><rect x="1244" y="939" width="8" height="1"/><rect x="1244" y="944" width="8" height="1"/></g>
<text x="1323" y="950.5" font-family="Liberation Mono" font-size="9.5" fill="#ddd" textLength="20" lengthAdjust="spacingAndGlyphs">5:57</text>
<rect x="1355" y="942" width="14" height="1.2" fill="#777"/>
<circle cx="1224.8" cy="942" r="3.5" fill="none" stroke="#999" stroke-width="1"/>
<rect x="1239" y="916.3" width="121" height="7.4" fill="#c4c4c4" stroke="#2a2a2a" stroke-width="1"/>
<rect x="1362" y="915.5" width="12" height="8" fill="#d0d0d0" stroke="#333" stroke-width="0.8"/>
<circle cx="1420" cy="922" r="9.5" fill="url(#knobG)" stroke="#999" stroke-width="0.6"/>
<g fill="#ddd" stroke="#444" stroke-width="0.8"><rect x="1382" y="938" width="6" height="10" rx="1"/><rect x="1395" y="938" width="6" height="10" rx="1"/><rect x="1409" y="936" width="6" height="12" rx="1"/><rect x="1424" y="936" width="6" height="12" rx="1"/></g>
<rect x="1182" y="940" width="7" height="7" fill="#ddd" stroke="#555" stroke-width="0.8"/>
<rect x="1199" y="941" width="12" height="5" fill="#111"/>
<circle cx="1176.5" cy="910" r="1.8" fill="none" stroke="#333" stroke-width="0.9"/><text x="1179" y="912" font-size="5" font-weight="bold" fill="#333">YAMAHA</text><rect x="1200" y="910" width="50" height="1" fill="#999"/>
<rect x="1158" y="958.5" width="297" height="11.5" fill="#141414"/>
<polygon points="1158,970 1165,969.6 1448.3,969.6 1455,970 1455,1024.5 1158,1024.5" fill="#151515"/>
<rect x="1165" y="969.6" width="283.3" height="54.9" fill="url(#silverG)"/>
<circle cx="1176.5" cy="975.5" r="1.8" fill="none" stroke="#333" stroke-width="0.9"/><text x="1179" y="977.5" font-size="5" font-weight="bold" fill="#333">YAMAHA</text><rect x="1200" y="975.5" width="45" height="1" fill="#999"/>
<circle cx="1419.5" cy="1000.5" r="15" fill="url(#knobG)" stroke="#aaa" stroke-width="0.6"/>
<g fill="#efefef" stroke="#aaa" stroke-width="0.8"><rect x="1269.5" y="987" width="7" height="22" rx="2"/><rect x="1303.5" y="987" width="7" height="22" rx="2"/><rect x="1336" y="987" width="7" height="22" rx="2"/></g>
<circle cx="1205.5" cy="1008.5" r="6" fill="#333" stroke="#bbb" stroke-width="1"/>
<circle cx="1205.5" cy="1008.5" r="2.5" fill="#111"/>
<rect x="1182" y="1003" width="8" height="8" fill="#ccc" stroke="#555" stroke-width="0.8"/>
<ellipse cx="1195" cy="1026" rx="17" ry="2.5" fill="#222"/>
<ellipse cx="1418" cy="1026" rx="18" ry="2.5" fill="#222"/>
<!-- ACTIVE SPEAKERS -->
<polygon points="1204.8,1264 1210,1265 1216,1269 1224,1271 1224,1378 1205,1381" fill="#333"/>
<rect x="1149" y="1265.3" width="55.8" height="115" rx="2" fill="#262626"/>
<rect x="1151.5" y="1268" width="51" height="93" fill="#393939"/>
<rect x="1149" y="1361" width="55.8" height="19.3" fill="#4a4a4a"/>
<rect x="1149.2" y="1267" width="1.3" height="112" fill="#999"/>
<rect x="1205" y="1266" width="1.5" height="113" fill="#aaa"/>
<text x="1177" y="1368" font-size="4" fill="#ddd" text-anchor="middle">microlab</text>
<polygon points="1336.5,1215 1378,1243 1381,1245 1381,1370 1336.5,1383.6" fill="#363636"/>
<polygon points="1224.9,1230 1336.5,1215 1340,1216 1340,1383.6 1224.9,1383.6" fill="#262626"/>
<polygon points="1228,1233.5 1332,1220 1332,1349 1228,1349" fill="#383838"/>
<rect x="1224.9" y="1349" width="111.6" height="34.6" fill="#4a4a4a"/>
<rect x="1225" y="1232" width="1.4" height="150" fill="#a8a8a8"/>
<rect x="1336.5" y="1216" width="1.5" height="167" fill="#555"/>
<rect x="1321" y="1332" width="13" height="15" fill="#eaeaea"/>
<circle cx="1312" cy="1366" r="9" fill="#1a1a1a" stroke="#666" stroke-width="1"/>
<circle cx="1310" cy="1364" r="3" fill="#3a3a3a"/>
<text x="1246" y="1356" font-size="4.5" fill="#ddd" text-anchor="middle">microlab</text>
<polygon points="1444.8,1243 1456,1248 1465,1262 1465,1380 1444.8,1387" fill="#363636"/>
<polygon points="1367.8,1249 1444.8,1243 1447,1243 1447,1387 1367.8,1387" fill="#262626"/>
<polygon points="1371,1252 1441,1247 1441,1361 1371,1361" fill="#393939"/>
<rect x="1367.8" y="1361" width="77" height="26" fill="#4a4a4a"/>
<rect x="1368" y="1250" width="1.4" height="136" fill="#999"/>
<rect x="1444" y="1244" width="1.5" height="142" fill="#666"/>
<text x="1406" y="1370" font-size="4.5" fill="#ddd" text-anchor="middle">microlab</text>
<!-- LABELS -->
<g font-size="34.5" fill="#141414" text-anchor="middle">
<text x="1306" y="186">Soundbar</text>
<text x="1306.8" y="696">Wall-mounted speaker</text>
<text x="1305" y="1077">Power amplifier</text>
<text x="1306" y="1480.5">Active speakers</text>
<text x="251" y="611.8">TV</text>
<text x="251.5" y="1054">PC</text>
<text x="251" y="1487.4">MP3/MP4</text>
<text x="763.6" y="821.3">Transmitter</text>
<text x="763" y="1487.5">Receiver</text>
</g>
<ellipse cx="829" cy="1474" rx="9" ry="12" fill="#fff" opacity="0.8" filter="url(#blur2)"/>
<use href="#txant" transform="translate(0,703.5)"/>
</svg>
</body></html>
